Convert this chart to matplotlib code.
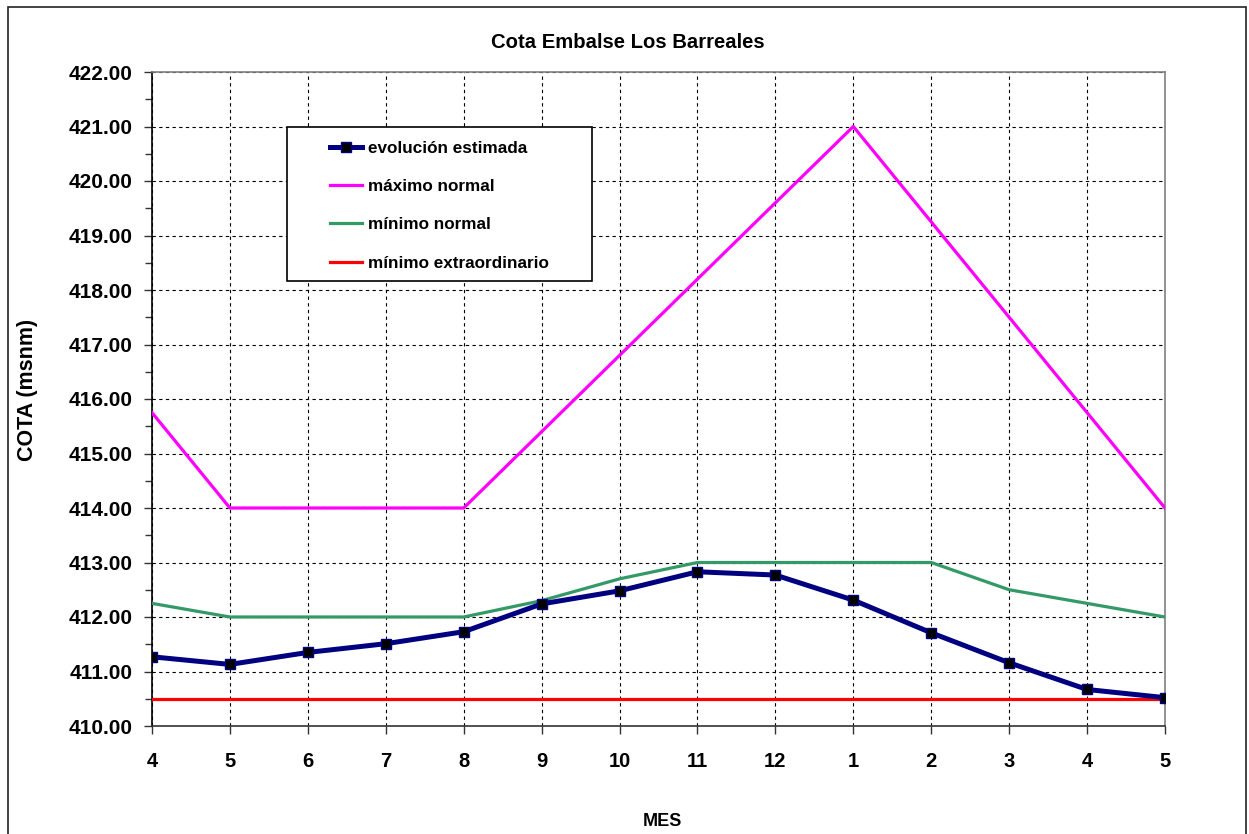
import matplotlib
matplotlib.use("Agg")
import matplotlib.pyplot as plt
from matplotlib.patches import Rectangle
from matplotlib.ticker import MultipleLocator

plt.rcParams['font.family'] = ['Liberation Sans', 'DejaVu Sans']
plt.rcParams['font.weight'] = 'bold'

meses = ["4", "5", "6", "7", "8", "9", "10", "11", "12", "1", "2", "3", "4", "5"]
evolucion = [411.27, 411.13, 411.35, 411.51, 411.73, 412.24, 412.48,
             412.83, 412.77, 412.31, 411.71, 411.16, 410.67, 410.52]
maximo_normal = [415.75, 414.0, 414.0, 414.0, 414.0, 415.4, 416.8,
                 418.2, 419.6, 421.0, 419.25, 417.5, 415.75, 414.0]
minimo_normal = [412.25, 412.0, 412.0, 412.0, 412.0, 412.3, 412.7,
                 413.0, 413.0, 413.0, 413.0, 412.5, 412.25, 412.0]
minimo_extra = [410.5] * len(meses)

x = list(range(len(meses)))

W, H = 1249, 834
AX_L, AX_T, AX_W, AX_H = 152, 72, 1013, 654


def ax_frac(px, py):
    # pixel position (from top-left of the image) -> axes fraction
    return (px - AX_L) / AX_W, (AX_T + AX_H - py) / AX_H


fig = plt.figure(figsize=(W / 100, H / 100), dpi=100)
ax = fig.add_axes([AX_L / W, (H - AX_T - AX_H) / H, AX_W / W, AX_H / H])

# outer chart frame
fig.patches.append(Rectangle((8 / W, -0.05), (1246 - 8) / W, 1 - 7 / H + 0.05,
                             transform=fig.transFigure, fill=False,
                             edgecolor="#222222", linewidth=1.2, clip_on=False))

ax.plot(x, evolucion, color="#000080", lw=3.6, marker="s", markersize=7.5,
        markerfacecolor="black", markeredgecolor="#000080", markeredgewidth=1,
        label="evolución estimada", zorder=5)
ax.plot(x, maximo_normal, color="#ff00ff", lw=2.3, label="máximo normal", zorder=4)
ax.plot(x, minimo_normal, color="#339966", lw=2.3, label="mínimo normal", zorder=4)
ax.plot(x, minimo_extra, color="#ff0000", lw=2.3, label="mínimo extraordinario", zorder=4)

ax.set_xlim(0, len(meses) - 1)
ax.set_ylim(410, 422)
ax.set_xticks(x)
ax.set_xticklabels(meses)
ax.yaxis.set_major_locator(MultipleLocator(1))
ax.yaxis.set_minor_locator(MultipleLocator(0.5))
ax.yaxis.set_major_formatter(lambda v, p: f"{v:.2f}")

ax.grid(True, which="major", color="black", linestyle=(0, (3, 3)), linewidth=0.8)
ax.tick_params(axis="both", which="major", direction="out", length=6, width=1,
               color="#333333")
ax.tick_params(axis="y", which="minor", direction="out", length=5, width=1, color="#333333")
ax.tick_params(axis="x", pad=13, labelsize=14.5)
ax.tick_params(axis="y", pad=8, labelsize=15)
for lab in ax.get_xticklabels() + ax.get_yticklabels():
    lab.set_fontweight("bold")

ax.spines["left"].set_color("black")
ax.spines["bottom"].set_color("#333333")
ax.spines["top"].set_color("#808080")
ax.spines["right"].set_color("#808080")
for s in ax.spines.values():
    s.set_linewidth(1.2)

fig.text(628 / W, 1 - 42 / H, "Cota Embalse Los Barreales", ha="center", va="center",
         fontsize=14.6, fontweight="bold")
fig.text(27 / W, 1 - 390 / H, "COTA (msnm)", ha="center", va="center", rotation=90,
         fontsize=15.5, fontweight="bold")
fig.text(662 / W, 1 - 822 / H, "MES", ha="center", va="center",
         fontsize=13, fontweight="bold")

# legend box with its own frame
x0, y1 = ax_frac(287, 127)
x1, y0 = ax_frac(592, 281)
ax.add_patch(Rectangle((x0, y0), x1 - x0, y1 - y0, transform=ax.transAxes,
                       facecolor="white", edgecolor="black", linewidth=1.2, zorder=9))
leg = ax.legend(loc="upper left", bbox_to_anchor=ax_frac(330, 141),
                fontsize=12.3, frameon=False, numpoints=1,
                handlelength=1.88, handletextpad=0.35,
                labelspacing=1.36, borderpad=0, borderaxespad=0)
leg.set_zorder(10)
for t in leg.get_texts():
    t.set_fontweight("bold")

fig.savefig("out.png", dpi=100)
